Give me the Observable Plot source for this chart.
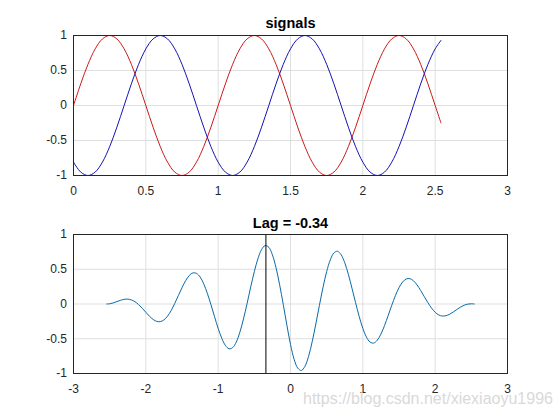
<!DOCTYPE html>
<html>
<head>
<meta charset="utf-8">
<script src="https://cdn.jsdelivr.net/npm/d3@7"></script>
<script src="https://cdn.jsdelivr.net/npm/@observablehq/plot@0.6"></script>
<style>
  html, body { margin: 0; padding: 0; background: #fff; }
  #fig { position: relative; width: 560px; height: 420px; overflow: hidden; font-family: "Liberation Sans", Arial, sans-serif; }
  #fig svg { display: block; }
  #wm { position: absolute; left: 303px; top: 391px; font-size: 16px; line-height: 1; color: #d9d9d9; white-space: nowrap; font-family: "Liberation Sans", Arial, sans-serif; }
</style>
</head>
<body>
<div id="fig"><div id="wm"></div></div>
<script>
// ---- data ----
const titleTop = "signals";
const titleBottom = "Lag = -0.34";
const lagValue = -0.34;
const watermark = "https://blog.csdn.net/xiexiaoyu1996";

const topX = [0, 0.5, 1, 1.5, 2, 2.5, 3];
const topXLabels = ["0", "0.5", "1", "1.5", "2", "2.5", "3"];
const botX = [-3, -2, -1, 0, 1, 2, 3];
const botXLabels = ["-3", "-2", "-1", "0", "1", "2", "3"];
const yTicks = [-1, -0.5, 0, 0.5, 1];
const yTickLabels = ["-1", "-0.5", "0", "0.5", "1"];

// time samples of the two signals
const time = [0,0.05,0.1,0.15,0.2,0.25,0.3,0.35,0.4,0.45,0.5,0.55,0.6,0.65,0.7,0.75,0.8,0.85,0.9,0.95,
  1,1.05,1.1,1.15,1.2,1.25,1.3,1.35,1.4,1.45,1.5,1.55,1.6,1.65,1.7,1.75,1.8,1.85,1.9,1.95,
  2,2.05,2.1,2.15,2.2,2.25,2.3,2.35,2.4,2.45,2.5,2.54];

const redSignal = [0,0.309,0.588,0.809,0.951,1,0.951,0.809,0.588,0.309,0,-0.309,-0.588,-0.809,-0.951,-1,-0.951,-0.809,-0.588,-0.309,
  0,0.309,0.588,0.809,0.951,1,0.951,0.809,0.588,0.309,0,-0.309,-0.588,-0.809,-0.951,-1,-0.951,-0.809,-0.588,-0.309,
  0,0.309,0.588,0.809,0.951,1,0.951,0.809,0.588,0.309,0,-0.249];

const blueSignal = [-0.809,-0.951,-1,-0.951,-0.809,-0.588,-0.309,0,0.309,0.588,0.809,0.951,1,0.951,0.809,0.588,0.309,0,-0.309,-0.588,
  -0.809,-0.951,-1,-0.951,-0.809,-0.588,-0.309,0,0.309,0.588,0.809,0.951,1,0.951,0.809,0.588,0.309,0,-0.309,-0.588,
  -0.809,-0.951,-1,-0.951,-0.809,-0.588,-0.309,0,0.309,0.588,0.809,0.930];

// cross-correlation lags and values
const lags = [-2.54,-2.5,-2.45,-2.4,-2.35,-2.3,-2.25,-2.2,-2.15,-2.1,-2.05,-2,-1.95,-1.9,-1.85,-1.8,-1.75,-1.7,-1.65,-1.6,
  -1.55,-1.5,-1.45,-1.4,-1.35,-1.3,-1.25,-1.2,-1.15,-1.1,-1.05,-1,-0.95,-0.9,-0.85,-0.8,-0.75,-0.7,-0.65,-0.6,
  -0.55,-0.5,-0.45,-0.4,-0.35,-0.3,-0.25,-0.2,-0.15,-0.1,-0.05,0,
  0.05,0.1,0.15,0.2,0.25,0.3,0.35,0.4,0.45,0.5,0.55,0.6,0.65,0.7,0.75,0.8,0.85,0.9,0.95,1,
  1.05,1.1,1.15,1.2,1.25,1.3,1.35,1.4,1.45,1.5,1.55,1.6,1.65,1.7,1.75,1.8,1.85,1.9,1.95,2,
  2.05,2.1,2.15,2.2,2.25,2.3,2.35,2.4,2.45,2.5,2.54];

const corr = [0,0.003,0.016,0.035,0.053,0.067,0.070,0.059,0.033,-0.009,-0.061,-0.119,-0.176,-0.222,-0.250,-0.254,-0.229,-0.175,-0.094,0.009,
  0.122,0.235,0.335,0.409,0.447,0.441,0.389,0.291,0.154,-0.009,-0.183,-0.351,-0.494,-0.596,-0.644,-0.628,-0.548,-0.406,-0.215,0.009,
  0.244,0.466,0.653,0.783,0.841,0.816,0.707,0.522,0.276,-0.009,-0.304,-0.582,
  -0.795,-0.922,-0.956,-0.896,-0.752,-0.542,-0.288,-0.018,0.242,0.466,0.635,0.735,0.759,0.708,0.593,0.426,0.227,0.018,-0.181,-0.351,
  -0.476,-0.548,-0.562,-0.521,-0.433,-0.310,-0.166,-0.018,0.120,0.235,0.317,0.360,0.365,0.334,0.274,0.194,0.105,0.018,-0.059,-0.119,
  -0.158,-0.173,-0.168,-0.147,-0.115,-0.079,-0.045,-0.018,-0.002,0.003,0];

// ---- drawing ----
const fontFamily = '"Liberation Sans", Arial, sans-serif';
const gridColor = "#dfdfdf";
const axisColor = "#262626";
const fmt = (ticks, labels) => d => { const i = ticks.indexOf(d); return i >= 0 ? labels[i] : String(d); };

const common = {
  width: 560,
  marginLeft: 73,
  marginRight: 53,
  style: { fontFamily, fontSize: "12px", color: axisColor, background: "white" }
};

const topPlot = Plot.plot({
  ...common,
  height: 200,
  marginTop: 35,
  marginBottom: 25,
  x: { domain: [0, 3], ticks: topX, tickFormat: fmt(topX, topXLabels), tickSize: 0, tickPadding: 11, label: null },
  y: { domain: [-1, 1], ticks: yTicks, tickFormat: fmt(yTicks, yTickLabels), tickSize: 0, tickPadding: 6.5, label: null },
  marks: [
    Plot.ruleX(topX, { stroke: gridColor }),
    Plot.ruleY(yTicks, { stroke: gridColor }),
    Plot.line(time, { x: time, y: redSignal, stroke: "#cc1a1a", strokeWidth: 1, curve: "catmull-rom" }),
    Plot.line(time, { x: time, y: blueSignal, stroke: "#1414b4", strokeWidth: 1, curve: "catmull-rom" }),
    Plot.frame({ stroke: axisColor }),
    Plot.text([titleTop], { frameAnchor: "top", lineAnchor: "bottom", dy: -8, text: d => d, fontWeight: "bold", fontSize: 14.5, fill: "#000" })
  ]
});

const bottomPlot = Plot.plot({
  ...common,
  height: 220,
  marginTop: 34,
  marginBottom: 47,
  x: { domain: [-3, 3], ticks: botX, tickFormat: fmt(botX, botXLabels), tickSize: 0, tickPadding: 11, label: null },
  y: { domain: [-1, 1], ticks: yTicks, tickFormat: fmt(yTicks, yTickLabels), tickSize: 0, tickPadding: 6.5, label: null },
  marks: [
    Plot.ruleX(botX, { stroke: gridColor }),
    Plot.ruleY(yTicks, { stroke: gridColor }),
    Plot.line(lags, { x: lags, y: corr, stroke: "#0a6aa8", strokeWidth: 1, curve: "catmull-rom" }),
    Plot.ruleX([lagValue], { stroke: "#000", strokeWidth: 1 }),
    Plot.frame({ stroke: axisColor }),
    Plot.text([titleBottom], { frameAnchor: "top", lineAnchor: "bottom", dy: -7, text: d => d, fontWeight: "bold", fontSize: 14.5, fill: "#000" })
  ]
});

const fig = document.getElementById("fig");
fig.insertBefore(bottomPlot, fig.firstChild);
fig.insertBefore(topPlot, fig.firstChild);
document.getElementById("wm").textContent = watermark;
</script>
</body>
</html>
